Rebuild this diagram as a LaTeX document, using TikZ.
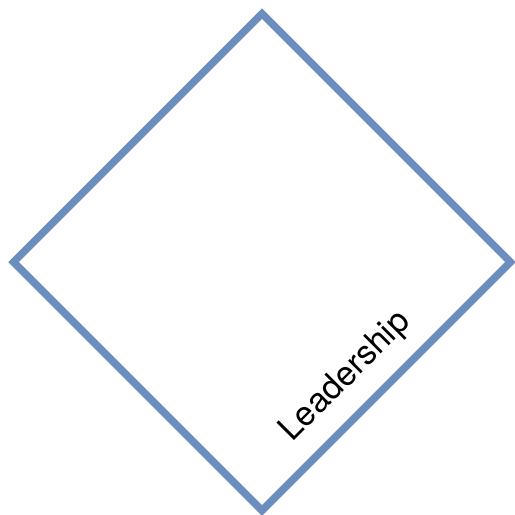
\documentclass[tikz,border=0pt]{standalone}
\usepackage{fontspec}
\setmainfont{TeX Gyre Heros}
\usetikzlibrary{shapes.geometric}
\definecolor{cframe}{HTML}{6C8EBF}

\begin{document}
\begin{tikzpicture}[
  x=1pt,y=-1pt,
  frame/.style={diamond,aspect=1,draw=cframe,line width=7.5pt,minimum width=500pt,minimum height=500pt,inner sep=0pt},
  lbl/.style={font=\fontsize{34}{40}\selectfont,rotate=45},
]
\useasboundingbox (0,0) rectangle (515,515);
% outer diamond
\node[frame] (lead) at (262,262) {};
% label along the lower right edge
\node[lbl] (leadtxt) at (346,377) {Leadership};
\end{tikzpicture}
\end{document}
